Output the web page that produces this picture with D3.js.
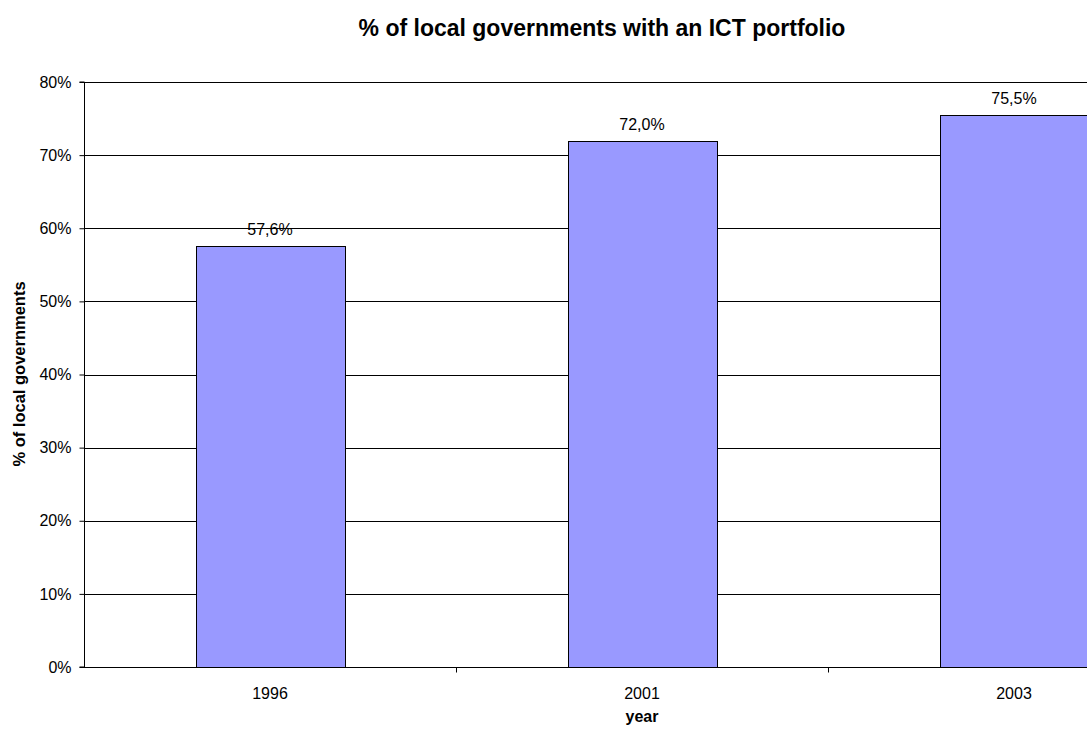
<!DOCTYPE html>
<html><head><meta charset="utf-8">
<script src="https://cdn.jsdelivr.net/npm/d3@7"></script>
<style>body{margin:0;background:#fff;overflow:hidden}text{font-family:"Liberation Sans",Arial,sans-serif;fill:#000}</style>
</head><body>
<svg id="c" width="1087" height="729"></svg>
<script>
const categories = ["1996", "2001", "2003"];
const values = [57.6, 72.0, 75.5];
const yTicks = [0, 10, 20, 30, 40, 50, 60, 70, 80];
const title = "% of local governments with an ICT portfolio";
const xTitle = "year";
const yTitle = "% of local governments";

(function () {
const svg = d3.select("#c");
const pLeft = 84, pTop = 82, pBottom = 667, plotRight = 84 + 3 * 372;
const FS = 16;
const x = d3.scaleBand().domain(categories).range([pLeft, plotRight]).paddingInner(0.6).paddingOuter(0.3);
const xb = d3.scaleBand().domain(categories).range([pLeft, plotRight]);
const y = d3.scaleLinear().domain([0, 80]).range([pBottom, pTop]);

// gridlines
svg.append("g").selectAll("line").data(yTicks.filter(d => d > 0)).join("line")
  .attr("x1", pLeft).attr("x2", plotRight)
  .attr("y1", d => Math.round(y(d)) + 0.5).attr("y2", d => Math.round(y(d)) + 0.5)
  .attr("stroke", "#000").attr("stroke-width", 1);

// bars
svg.append("g").selectAll("rect").data(values).join("rect")
  .attr("x", (d, i) => Math.round(x(categories[i])) + 0.5)
  .attr("width", Math.round(x.bandwidth()))
  .attr("y", d => Math.round(y(d)) + 0.5)
  .attr("height", d => Math.round(y(0)) - Math.round(y(d)))
  .attr("fill", "#9999FF").attr("stroke", "#000").attr("stroke-width", 1);

// value labels
svg.append("g").selectAll("text").data(values).join("text")
  .attr("x", (d, i) => x(categories[i]) + x.bandwidth() / 2)
  .attr("y", d => y(d) - 11)
  .attr("text-anchor", "middle").attr("font-size", FS)
  .text(d => d.toFixed(1).replace(".", ",") + "%");

// y axis
const ya = d3.axisLeft(y).tickValues(yTicks).tickSize(5).tickPadding(8).tickFormat(d => d + "%");
const gy = svg.append("g").attr("transform", `translate(${pLeft + 0.5},0)`).call(ya);
gy.selectAll("text").attr("font-size", FS).attr("font-family", "Liberation Sans, Arial, sans-serif").attr("fill", "#000");
gy.selectAll("line,path").attr("stroke", "#000");
gy.select(".domain").attr("d", `M-5,${y(80)}H0V${y(0)}H-5`);

// x axis
const gx = svg.append("g").attr("transform", `translate(0,${Math.round(y(0)) + 0.5})`);
gx.append("line").attr("x1", pLeft).attr("x2", plotRight).attr("stroke", "#000");
gx.selectAll("line.t").data(categories.slice(1)).join("line").attr("class", "t")
  .attr("x1", d => Math.round(xb(d)) + 0.5).attr("x2", d => Math.round(xb(d)) + 0.5)
  .attr("y1", 0).attr("y2", 5).attr("stroke", "#000");
gx.selectAll("text").data(categories).join("text")
  .attr("x", d => xb(d) + xb.bandwidth() / 2).attr("y", 31)
  .attr("text-anchor", "middle").attr("font-size", FS).text(d => d);

// titles
svg.append("text").attr("x", 602).attr("y", 36).attr("text-anchor", "middle")
  .attr("font-size", 23).attr("font-weight", "bold").text(title);
svg.append("text").attr("x", 642).attr("y", 722).attr("text-anchor", "middle")
  .attr("font-size", FS).attr("font-weight", "bold").text(xTitle);
svg.append("text").attr("transform", "translate(25,374) rotate(-90)").attr("text-anchor", "middle")
  .attr("font-size", 16.5).attr("font-weight", "bold").text(yTitle);
})();
</script>
</body></html>
